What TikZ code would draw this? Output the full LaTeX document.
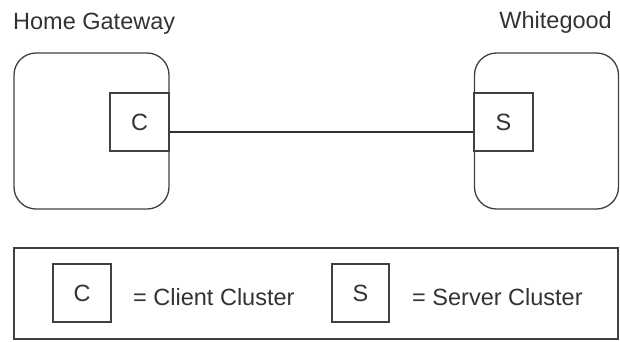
\documentclass[tikz,border=0pt]{standalone}
\usepackage{fontspec}
\setmainfont{Liberation Sans}
\begin{document}
\begin{tikzpicture}[x=1pt,y=-1pt,
  every node/.style={font=\fontsize{23.5}{28}\selectfont, text=black!80},
  devbox/.style={draw=black!75, line width=1.3pt, rounded corners=22pt, minimum height=156pt, inner sep=0pt},
  clbox/.style={draw=black!75, line width=1.3pt, minimum width=58pt, minimum height=58pt, inner sep=0pt, fill=white},
  legbox/.style={draw=black!75, line width=1.3pt, minimum width=604pt, minimum height=91pt, inner sep=0pt},
  link/.style={draw=black!80, line width=1.3pt}]
\useasboundingbox (0,0) rectangle (620,341);
\node[devbox, minimum width=155pt] (hg) at (91.5,131) {};
\node[devbox, minimum width=144pt] (wg) at (546.5,131) {};
\node[clbox, minimum width=59pt] (c) at (139.5,122) {C};
\node[clbox, minimum width=59pt] (s) at (503.5,122) {S};
\draw[link] ([yshift=-10pt]c.east) -- ([yshift=-10pt]s.west);
\node[anchor=base west, inner sep=0pt] (hgl) at (13,29.5) {Home Gateway};
\node[anchor=base east, inner sep=0pt] (wgl) at (612,28.5) {Whitegood};
\node[legbox] (leg) at (316,293.5) {};
\node[clbox] (lc) at (82,293) {C};
\node[anchor=base west, inner sep=0pt] (lct) at (133,305) {= Client Cluster};
\node[clbox, minimum width=57pt] (ls) at (360.5,293) {S};
\node[anchor=base west, inner sep=0pt] (lst) at (412,305) {= Server Cluster};
\end{tikzpicture}
\end{document}
